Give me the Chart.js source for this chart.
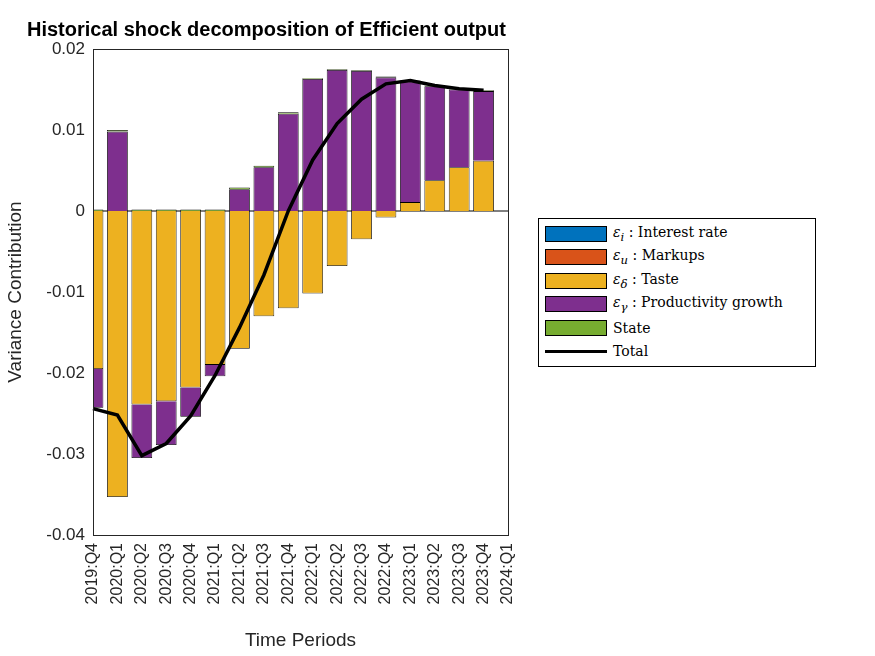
<!DOCTYPE html>
<html><head><meta charset="utf-8">
<script src="https://cdn.jsdelivr.net/npm/chart.js@4"></script>
<style>
body{margin:0;background:#fff;font-family:"Liberation Sans",Arial,sans-serif}
#wrap{position:relative;width:875px;height:656px}
#title{position:absolute;left:27px;top:18px;font-weight:bold;font-size:20px}
#legend{position:absolute;left:538px;top:218px;width:276px;border:1px solid #000;background:#fff;font-family:"DejaVu Serif",serif;font-size:14px;padding:3px 0}
.row{display:flex;align-items:center;height:23.5px}
.sw{width:62px;height:16px;margin:0 6px 0 6px;border:1px solid #000;box-sizing:border-box}
.ln{width:62px;height:3px;margin:0 6px;background:#000}
i{font-style:italic}
</style></head><body>
<div id="wrap"><canvas id="c" width="875" height="656"></canvas>
<div id="title">Historical shock decomposition of Efficient output</div>
<div id="legend">
<div class="row"><div class="sw" style="background:#0072BD"></div><span><i>ε<sub>i</sub></i> : Interest rate</span></div>
<div class="row"><div class="sw" style="background:#D95319"></div><span><i>ε<sub>u</sub></i> : Markups</span></div>
<div class="row"><div class="sw" style="background:#EDB120"></div><span><i>ε<sub>δ</sub></i> : Taste</span></div>
<div class="row"><div class="sw" style="background:#7E2F8E"></div><span><i>ε<sub>γ</sub></i> : Productivity growth</span></div>
<div class="row"><div class="sw" style="background:#77AC30"></div><span>State</span></div>
<div class="row"><div class="ln"></div><span>Total</span></div>
</div></div>
<script>
// --- DATA ---
const periods = ['2019:Q4','2020:Q1','2020:Q2','2020:Q3','2020:Q4','2021:Q1','2021:Q2','2021:Q3','2021:Q4',
  '2022:Q1','2022:Q2','2022:Q3','2022:Q4','2023:Q1','2023:Q2','2023:Q3','2023:Q4','2024:Q1'];
const interestRate = [0,0,0,0,0,0,0,0,0,0,0,0,0,0,0,0,0];
const markups = [0,0,0,0,0,0,0,0,0,0,0,0,0,0,0,0,0];
const taste = [-0.0195,-0.0353,-0.0239,-0.0235,-0.0218,-0.0190,-0.0170,-0.0130,-0.0120,-0.0102,-0.0068,-0.0035,-0.0008,0.0011,0.0038,0.0054,0.0062];
const productivity = [-0.0048,0.0098,-0.0066,-0.0054,-0.0036,-0.0014,0.0027,0.0054,0.0120,0.0163,0.0174,0.0173,0.0165,0.0149,0.0116,0.0096,0.0086];
const state = [0.0002,0.0002,0.0002,0.0002,0.0002,0.0002,0.0002,0.0002,0.0002,0.0001,0.0001,0.0001,0.0001,0.0001,0.0001,0.0001,0.0001];
const total = [-0.0244,-0.0252,-0.0302,-0.0287,-0.0253,-0.0203,-0.0144,-0.0079,0.0000,0.0063,0.0108,0.0138,0.0157,0.0161,0.0155,0.0151,0.0149];
const yTicks = [-0.04,-0.03,-0.02,-0.01,0,0.01,0.02];

function bar(label, data, color) {
    return { type: 'bar', label, data, backgroundColor: color, borderColor: '#000', borderWidth: 0.8,
             stack: 'bars', barPercentage: 0.85, categoryPercentage: 1 };
}

// draws the axes box and the zero line
const boxPlugin = {
    id: 'box',
    beforeDatasetsDraw(chart) {
        const a = chart.chartArea, ctx = chart.ctx, y0 = chart.scales.y.getPixelForValue(0);
        ctx.save(); ctx.strokeStyle = '#000'; ctx.lineWidth = 1;
        ctx.beginPath(); ctx.moveTo(a.left, y0); ctx.lineTo(a.right, y0); ctx.stroke();
        ctx.restore();
    },
    afterDraw(chart) {
        const a = chart.chartArea, ctx = chart.ctx;
        ctx.save(); ctx.strokeStyle = '#262626'; ctx.lineWidth = 1;
        ctx.strokeRect(a.left + 0.5, a.top + 0.5, a.right - a.left, a.bottom - a.top);
        ctx.restore();
    }
};

new Chart(document.getElementById('c'), {
    data: {
        labels: periods,
        datasets: [
            bar('Interest rate', interestRate, '#0072BD'),
            bar('Markups', markups, '#D95319'),
            bar('Taste', taste, '#EDB120'),
            bar('Productivity growth', productivity, '#7E2F8E'),
            bar('State', state, '#77AC30'),
            { type: 'line', label: 'Total', data: total, borderColor: '#000', borderWidth: 3.5,
              pointRadius: 0, stack: 'total', tension: 0, order: -1 }
        ]
    },
    options: {
        responsive: false, animation: false,
        layout: { padding: { top: 49, right: 367, left: 0, bottom: 0 } },
        plugins: { legend: { display: false }, tooltip: { enabled: false } },
        scales: {
            x: {
                stacked: true, offset: false,
                grid: { display: false, drawTicks: true, tickLength: 5, color: '#262626' },
                border: { display: false },
                ticks: { autoSkip: false, maxRotation: 90, minRotation: 90, color: '#262626',
                         font: { family: 'Liberation Sans', size: 16 } },
                title: { display: true, text: 'Time Periods', color: '#262626',
                         font: { family: 'Liberation Sans', size: 19 } },
                afterFit(s) { s.height = 121; }
            },
            y: {
                stacked: true, min: -0.04, max: 0.02,
                afterBuildTicks(s) { s.ticks = yTicks.map(v => ({ value: v })); },
                grid: { display: false, tickLength: 5 },
                border: { display: false },
                ticks: { color: '#262626', font: { family: 'Liberation Sans', size: 17 },
                         callback: v => v === 0 ? '0' : v.toFixed(2) },
                title: { display: true, text: 'Variance Contribution', color: '#262626',
                         font: { family: 'Liberation Sans', size: 19 } },
                afterFit(s) { s.width = 93; }
            }
        }
    },
    plugins: [boxPlugin]
});
</script>
</body></html>
